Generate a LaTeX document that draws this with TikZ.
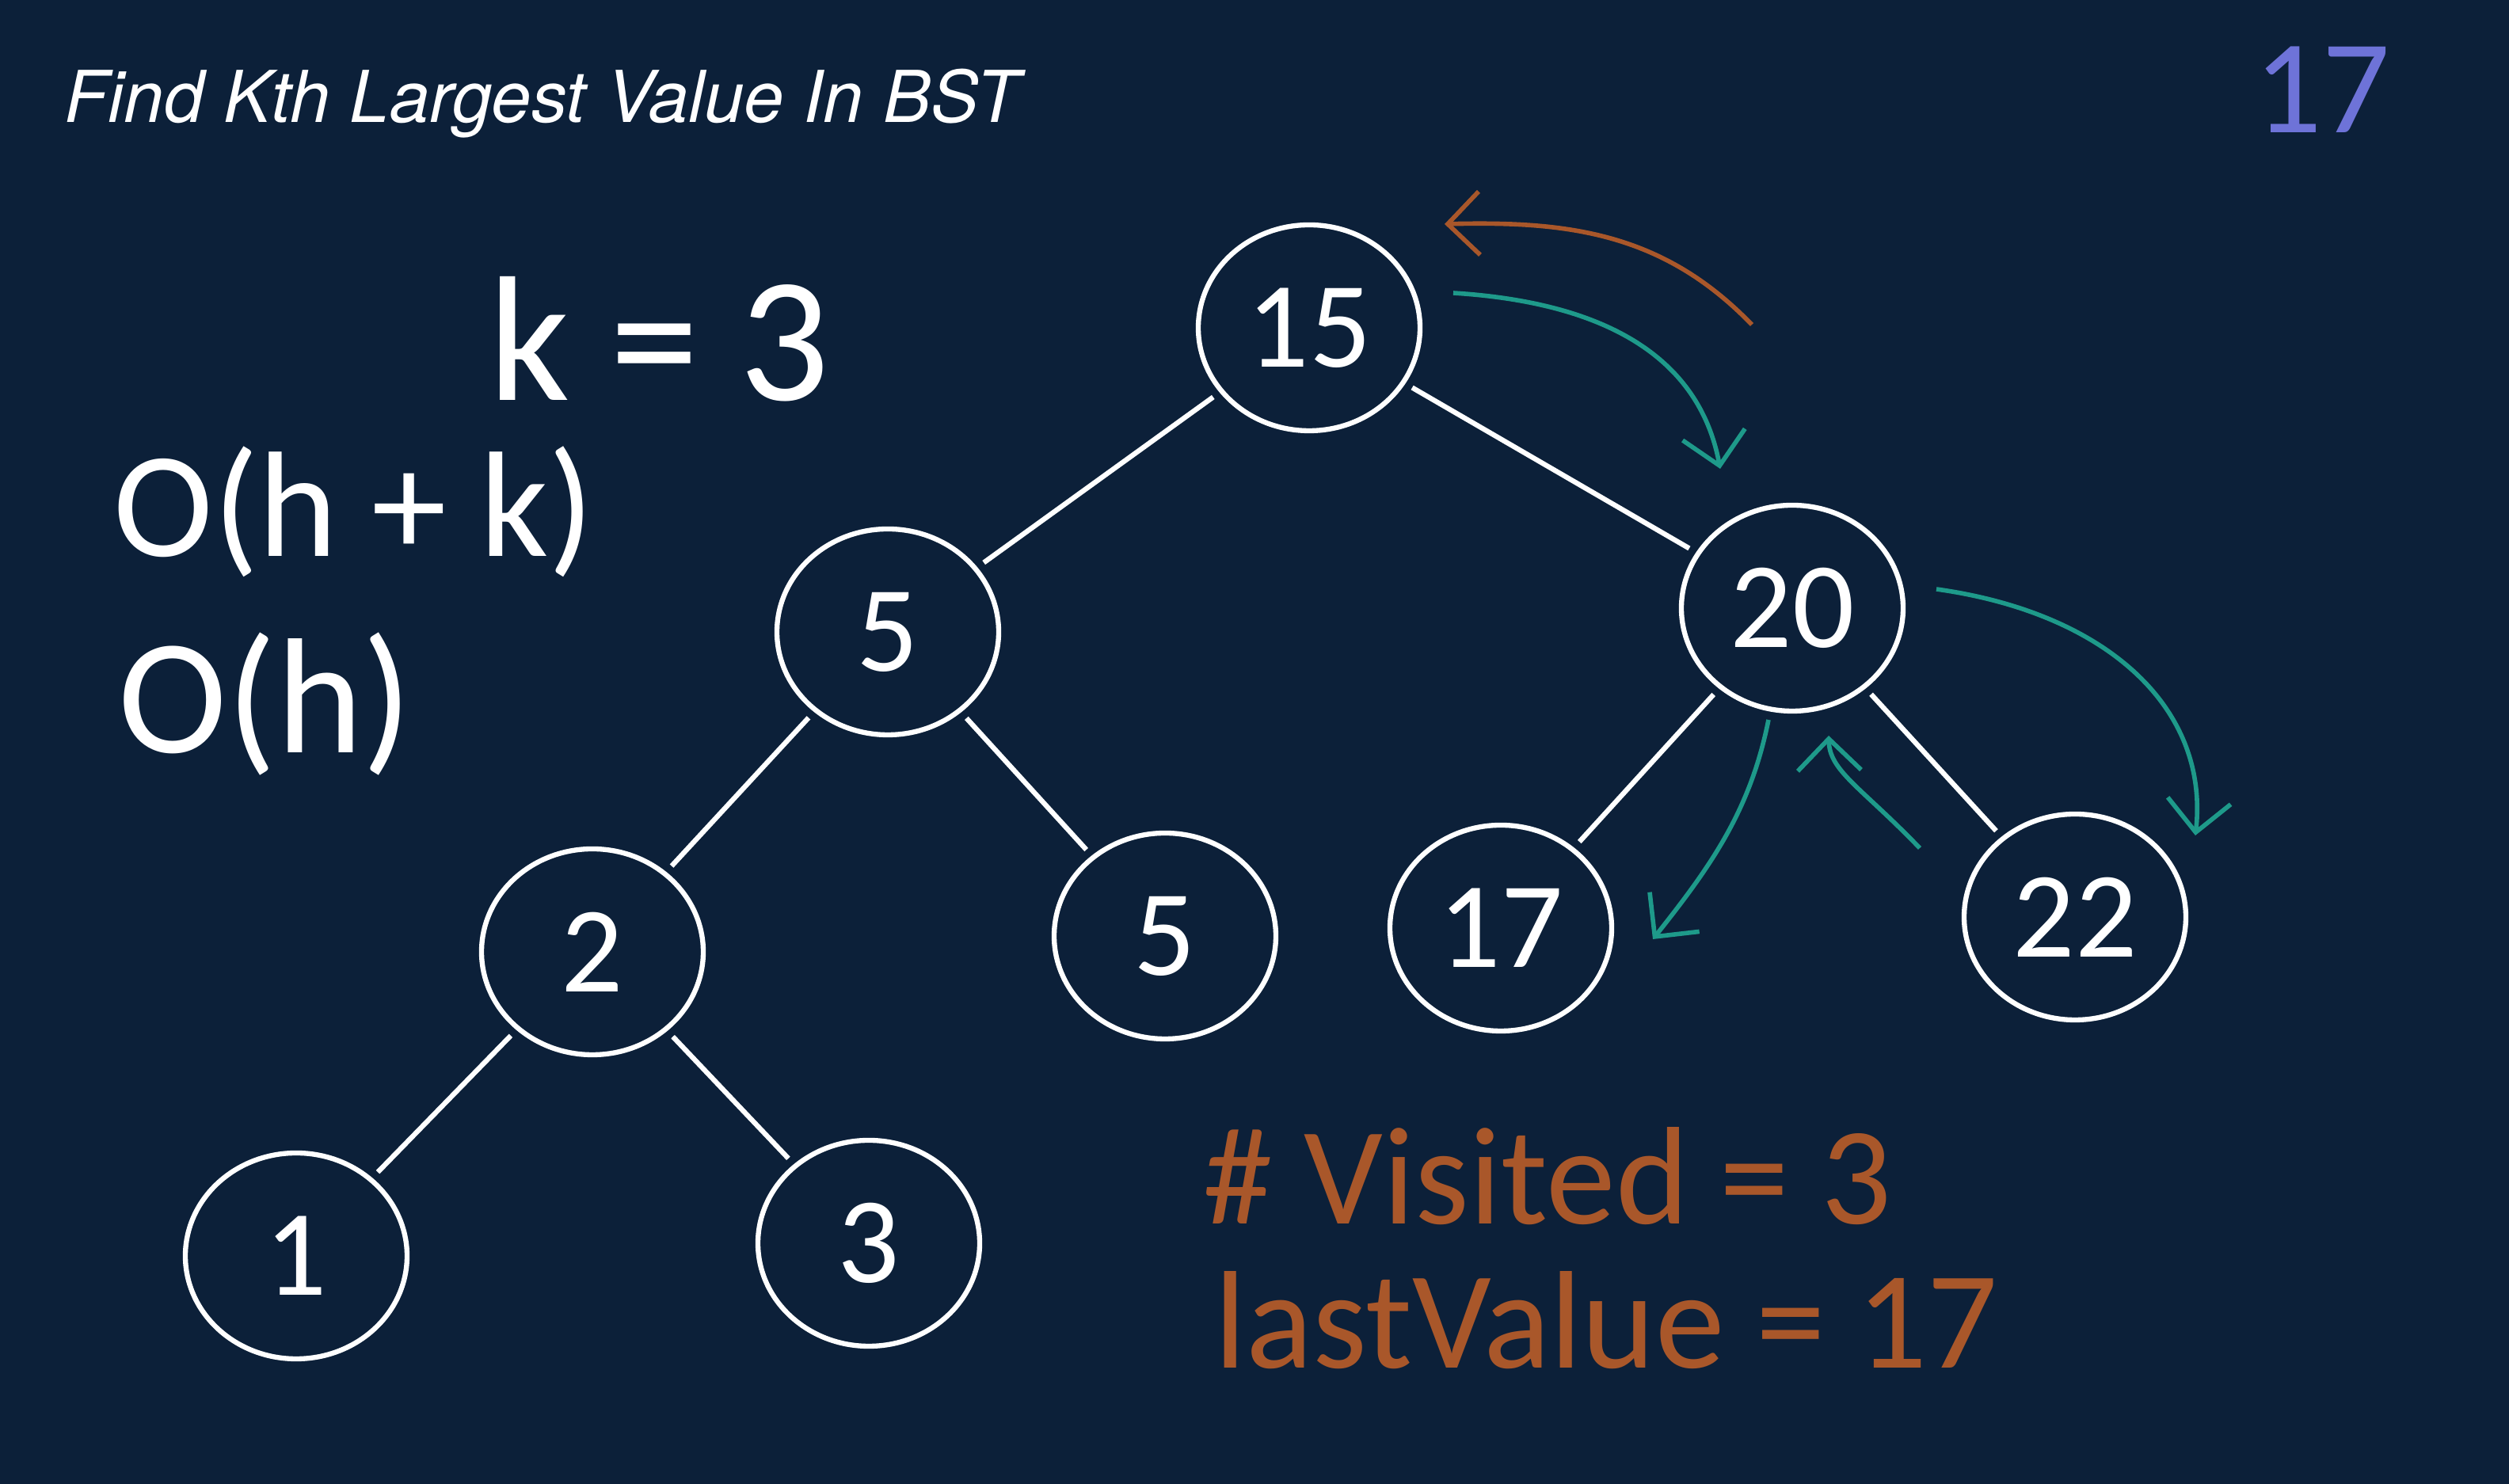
\documentclass[tikz,border=0pt]{standalone}
\usepackage{fontspec}
\usepackage{xcolor}
\usepackage{tikz}
\setmainfont{TeX Gyre Heros}
\newfontfamily\handfont{Carlito}
\usetikzlibrary{shapes,arrows,positioning,calc,arrows.meta}
\definecolor{boardbg}{HTML}{0C2039}
\definecolor{penorange}{HTML}{A9572A}
\definecolor{penteal}{HTML}{1E9A8A}
\definecolor{penblue}{HTML}{6E73D8}

\begin{document}
\begin{tikzpicture}[
    treenode/.style={draw=white, line width=1.8pt, ellipse, minimum width=2.8cm, minimum height=2.6cm,
        text=white, font=\handfont\fontsize{44}{44}\selectfont},
    treeedge/.style={draw=white, line width=1.8pt, shorten <=1mm, shorten >=1mm},
    handtext/.style={font=\handfont\fontsize{64}{64}\selectfont},
    walk/.style={line width=1.6pt, -{Straight Barb[length=4mm, width=8mm, line width=1.6pt]}}
]
    \fill[boardbg] (0,0) rectangle (31.68,18.74);
    \useasboundingbox (0,0) rectangle (31.68,18.74);

    % Title
    \node[anchor=west, inner sep=0pt, text=white, font=\itshape\fontsize{25.7}{25.7}\selectfont] (title) at (0.81,17.43) {Find Kth Largest Value In BST};
    \node[text=penblue, font=\handfont\fontsize{48}{48}\selectfont] (answer) at (29.32,17.61) {17};

    % Notes
    \node[handtext, text=white] (kval) at (8.32,14.46) {k = 3};
    \node[handtext, text=white, font=\handfont\fontsize{54}{54}\selectfont] (timecost) at (4.47,12.28) {O(h + k)};
    \node[handtext, text=white, font=\handfont\fontsize{59}{59}\selectfont] (spacecost) at (3.35,9.85) {O(h)};

    % Tree
    \node[treenode] (n15) at (16.53,14.60) {15};
    \node[treenode] (n5a) at (11.21,10.76) {5};
    \node[treenode] (n20) at (22.63,11.06) {20};
    \node[treenode] (n2) at (7.48,6.72) {2};
    \node[treenode] (n5b) at (14.71,6.92) {5};
    \node[treenode] (n17) at (18.95,7.02) {17};
    \node[treenode] (n22) at (26.20,7.16) {22};
    \node[treenode] (n1) at (3.74,2.88) {1};
    \node[treenode] (n3) at (10.97,3.04) {3};

    \draw[treeedge] (n15) -- (n5a);
    \draw[treeedge] (n15) -- (n20);
    \draw[treeedge] (n5a) -- (n2);
    \draw[treeedge] (n5a) -- (n5b);
    \draw[treeedge] (n20) -- (n17);
    \draw[treeedge] (n20) -- (n22);
    \draw[treeedge] (n2) -- (n1);
    \draw[treeedge] (n2) -- (n3);

    % Traversal arrows
    \coordinate (o1) at (22.12,14.64);
    \coordinate (o2) at (18.24,15.91);
    \draw[walk, penorange] (o1) .. controls (21.0,15.8) and (19.8,15.95) .. (o2);

    \coordinate (t1) at (18.35,15.04);
    \coordinate (t2) at (21.72,12.82);
    \draw[walk, penteal] (t1) .. controls (20.6,14.9) and (21.5,14.0) .. (t2);

    \coordinate (t3) at (24.45,11.30);
    \coordinate (t4) at (27.72,8.19);
    \draw[walk, penteal] (t3) .. controls (26.6,11.0) and (27.9,9.8) .. (t4);

    \coordinate (t5) at (22.33,9.65);
    \coordinate (t6) at (20.87,6.88);
    \draw[walk, penteal] (t5) .. controls (22.1,8.5) and (21.6,7.8) .. (t6);

    \coordinate (t7) at (24.24,8.03);
    \coordinate (t8) at (23.09,9.45);
    \draw[walk, penteal] (t7) .. controls (23.5,8.8) and (23.1,9.0) .. (t8);

    % Counters
    \node[handtext, text=penorange, font=\handfont\fontsize{50}{50}\selectfont] (visited) at (19.54,3.89) {\# Visited = 3};
    \node[handtext, text=penorange, font=\handfont\fontsize{50}{50}\selectfont] (lastval) at (20.28,2.07) {lastValue = 17};
\end{tikzpicture}
\end{document}
